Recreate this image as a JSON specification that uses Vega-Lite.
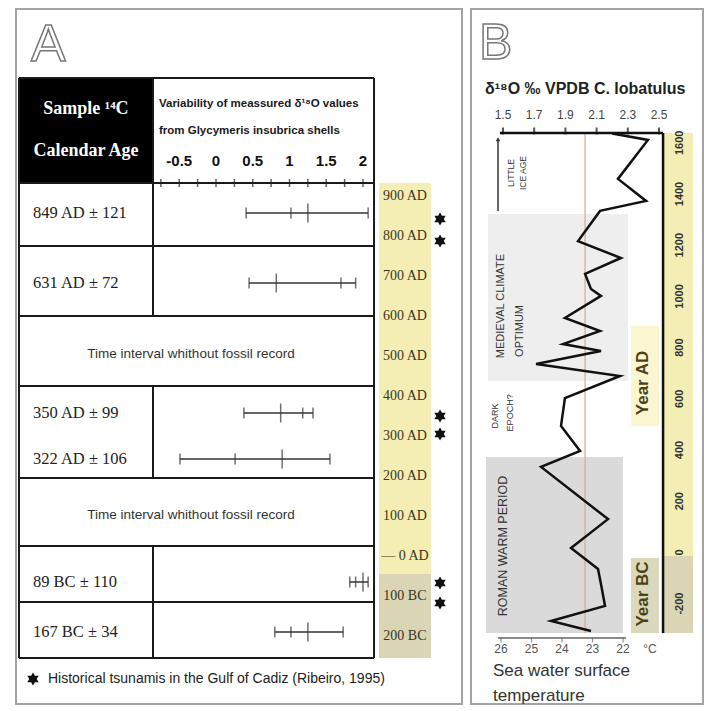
{
  "$schema": "https://vega.github.io/schema/vega-lite/v6.json",
  "padding": {"left": 15, "top": 8, "right": 0, "bottom": 0},
  "background": "white",
  "spacing": 7,
  "config": {"view": {"stroke": "#a3a3a3", "strokeWidth": 2}, "axis": {"grid": false}},
  "datasets": {
    "samples": [
      {"sample": "849 AD ± 121", "age": 849, "plot_year": 857.5, "lo": 0.41, "q": 1.02, "mean": 1.25, "hi": 2.07},
      {"sample": "631 AD ± 72", "age": 631, "plot_year": 682.5, "lo": 0.45, "q": 1.70, "mean": 0.82, "hi": 1.90},
      {"sample": "350 AD ± 99", "age": 350, "plot_year": 357.5, "lo": 0.38, "q": 1.18, "mean": 0.88, "hi": 1.32},
      {"sample": "322 AD ± 106", "age": 322, "plot_year": 242.5, "lo": -0.49, "q": 0.26, "mean": 0.90, "hi": 1.55},
      {"sample": "89 BC ± 110", "age": -89, "plot_year": -65, "lo": 1.82, "q": 1.90, "mean": 2.0, "hi": 2.07},
      {"sample": "167 BC ± 34", "age": -167, "plot_year": -190, "lo": 0.80, "q": 1.02, "mean": 1.25, "hi": 1.73}
    ],
    "tsunamis": [{"year": 842.5}, {"year": 787.5}, {"year": 350}, {"year": 305}, {"year": -67.5}, {"year": -117.5}],
    "yearsA": [
      {"year": 900, "label": "900 AD"}, {"year": 800, "label": "800 AD"}, {"year": 700, "label": "700 AD"},
      {"year": 600, "label": "600 AD"}, {"year": 500, "label": "500 AD"}, {"year": 400, "label": "400 AD"},
      {"year": 300, "label": "300 AD"}, {"year": 200, "label": "200 AD"}, {"year": 100, "label": "100 AD"},
      {"year": 0, "label": "— 0 AD"}, {"year": -100, "label": "100 BC"}, {"year": -200, "label": "200 BC"}
    ],
    "ticksA": [{"v": -0.75}, {"v": -0.5}, {"v": -0.25}, {"v": 0}, {"v": 0.25}, {"v": 0.5}, {"v": 0.75}, {"v": 1}, {"v": 1.25}, {"v": 1.5}, {"v": 1.75}, {"v": 2}],
    "labelsA": [{"v": -0.5, "label": "-0.5"}, {"v": 0, "label": "0"}, {"v": 0.5, "label": "0.5"}, {"v": 1, "label": "1"}, {"v": 1.5, "label": "1.5"}, {"v": 2, "label": "2"}],
    "ticksB": [{"v": 1.5, "label": "1.5"}, {"v": 1.7, "label": "1.7"}, {"v": 1.9, "label": "1.9"}, {"v": 2.1, "label": "2.1"}, {"v": 2.3, "label": "2.3"}, {"v": 2.5, "label": "2.5"}],
    "yearsB": [{"year": -200}, {"year": 0}, {"year": 200}, {"year": 400}, {"year": 600}, {"year": 800}, {"year": 1000}, {"year": 1200}, {"year": 1400}, {"year": 1600}],
    "temps": [{"t": 26, "label": "26"}, {"t": 25, "label": "25"}, {"t": 24, "label": "24"}, {"t": 23, "label": "23"}, {"t": 22, "label": "22"}],
    "d18o": [
      {"year": 1636, "d18O": 2.2},
      {"year": 1611, "d18O": 2.429},
      {"year": 1459, "d18O": 2.237},
      {"year": 1373, "d18O": 2.417},
      {"year": 1334, "d18O": 2.122},
      {"year": 1216, "d18O": 1.981},
      {"year": 1150, "d18O": 2.256},
      {"year": 1088, "d18O": 2.026},
      {"year": 1029, "d18O": 2.064},
      {"year": 1002, "d18O": 2.128},
      {"year": 916, "d18O": 1.897},
      {"year": 865, "d18O": 2.122},
      {"year": 814, "d18O": 1.885},
      {"year": 787, "d18O": 2.128},
      {"year": 736, "d18O": 1.712},
      {"year": 689, "d18O": 2.25},
      {"year": 603, "d18O": 1.897},
      {"year": 494, "d18O": 1.872},
      {"year": 396, "d18O": 1.994},
      {"year": 334, "d18O": 1.744},
      {"year": 130, "d18O": 2.173},
      {"year": 17, "d18O": 1.936},
      {"year": -65, "d18O": 2.109},
      {"year": -123, "d18O": 2.128},
      {"year": -209, "d18O": 2.154},
      {"year": -268, "d18O": 1.808},
      {"year": -307, "d18O": 2.064}
    ]
  },
  "hconcat": [
    {
      "width": 446,
      "height": 695,
      "layer": [
        {
          "data": {"values": [{"era": "AD", "from": 932.5, "to": -45}, {"era": "BC", "from": -45, "to": -255}]},
          "mark": {"type": "rect"},
          "encoding": {
            "x": {"datum": 2.218, "type": "quantitative", "scale": {"domain": [-2.721, 3.347], "nice": false, "zero": false}, "axis": null},
            "x2": {"datum": 2.925},
            "y": {"field": "from", "type": "quantitative", "scale": {"domain": [-370, 1367.5], "nice": false, "zero": false}, "axis": null},
            "y2": {"field": "to"},
            "color": {"field": "era", "type": "nominal", "scale": {"domain": ["AD", "BC"], "range": ["#f5eeb4", "#d9d5b5"]}, "legend": null}
          }
        },
        {
          "data": {"name": "yearsA"},
          "mark": {"type": "text", "align": "center", "baseline": "middle", "font": "Liberation Serif", "fontSize": 14, "color": "#3a3520"},
          "encoding": {
            "x": {"datum": 2.571, "type": "quantitative", "scale": {"domain": [-2.721, 3.347], "nice": false, "zero": false}, "axis": null},
            "y": {"field": "year", "type": "quantitative", "scale": {"domain": [-370, 1367.5], "nice": false, "zero": false}, "axis": null},
            "text": {"field": "label"}
          }
        },
        {
          "data": {"values": [{}]},
          "mark": {"type": "rect", "color": "#000000"},
          "encoding": {
            "x": {"datum": -2.68, "type": "quantitative", "scale": {"domain": [-2.721, 3.347], "nice": false, "zero": false}, "axis": null},
            "x2": {"datum": -0.857},
            "y": {"datum": 1195, "type": "quantitative", "scale": {"domain": [-370, 1367.5], "nice": false, "zero": false}, "axis": null},
            "y2": {"datum": 932.5}
          }
        },
        {
          "data": {"values": [{"year": 1195}, {"year": 932.5}, {"year": 775}, {"year": 600}, {"year": 425}, {"year": 195}, {"year": 25}, {"year": -115}, {"year": -255}]},
          "mark": {"type": "rule", "color": "#1a1a1a", "strokeWidth": 2},
          "encoding": {
            "x": {"datum": -2.68, "type": "quantitative", "scale": {"domain": [-2.721, 3.347], "nice": false, "zero": false}, "axis": null},
            "x2": {"datum": 2.15},
            "y": {"field": "year", "type": "quantitative", "scale": {"domain": [-370, 1367.5], "nice": false, "zero": false}, "axis": null}
          }
        },
        {
          "data": {"values": [{}]},
          "mark": {"type": "rule", "color": "#1a1a1a", "strokeWidth": 2},
          "encoding": {
            "x": {"datum": -2.68, "type": "quantitative", "scale": {"domain": [-2.721, 3.347], "nice": false, "zero": false}, "axis": null},
            "y": {"datum": 1195, "type": "quantitative", "scale": {"domain": [-370, 1367.5], "nice": false, "zero": false}, "axis": null},
            "y2": {"datum": -255}
          }
        },
        {
          "data": {"values": [{}]},
          "mark": {"type": "rule", "color": "#1a1a1a", "strokeWidth": 2},
          "encoding": {
            "x": {"datum": 2.15, "type": "quantitative", "scale": {"domain": [-2.721, 3.347], "nice": false, "zero": false}, "axis": null},
            "y": {"datum": 1195, "type": "quantitative", "scale": {"domain": [-370, 1367.5], "nice": false, "zero": false}, "axis": null},
            "y2": {"datum": -255}
          }
        },
        {
          "data": {"values": [{}]},
          "mark": {"type": "rule", "color": "#1a1a1a", "strokeWidth": 2},
          "encoding": {
            "x": {"datum": -0.857, "type": "quantitative", "scale": {"domain": [-2.721, 3.347], "nice": false, "zero": false}, "axis": null},
            "y": {"datum": 1195, "type": "quantitative", "scale": {"domain": [-370, 1367.5], "nice": false, "zero": false}, "axis": null},
            "y2": {"datum": 600}
          }
        },
        {
          "data": {"values": [{}]},
          "mark": {"type": "rule", "color": "#1a1a1a", "strokeWidth": 2},
          "encoding": {
            "x": {"datum": -0.857, "type": "quantitative", "scale": {"domain": [-2.721, 3.347], "nice": false, "zero": false}, "axis": null},
            "y": {"datum": 425, "type": "quantitative", "scale": {"domain": [-370, 1367.5], "nice": false, "zero": false}, "axis": null},
            "y2": {"datum": 195}
          }
        },
        {
          "data": {"values": [{}]},
          "mark": {"type": "rule", "color": "#1a1a1a", "strokeWidth": 2},
          "encoding": {
            "x": {"datum": -0.857, "type": "quantitative", "scale": {"domain": [-2.721, 3.347], "nice": false, "zero": false}, "axis": null},
            "y": {"datum": 25, "type": "quantitative", "scale": {"domain": [-370, 1367.5], "nice": false, "zero": false}, "axis": null},
            "y2": {"datum": -255}
          }
        },
        {
          "data": {"name": "ticksA"},
          "mark": {"type": "tick", "orient": "vertical", "size": 8, "thickness": 1.5, "color": "#222222"},
          "encoding": {
            "x": {"field": "v", "type": "quantitative", "scale": {"domain": [-2.721, 3.347], "nice": false, "zero": false}, "axis": null},
            "y": {"datum": 932.5, "type": "quantitative", "scale": {"domain": [-370, 1367.5], "nice": false, "zero": false}, "axis": null}
          }
        },
        {
          "data": {"name": "labelsA"},
          "mark": {"type": "text", "align": "center", "baseline": "middle", "font": "Liberation Sans", "fontSize": 15, "fontWeight": "bold", "color": "#111111"},
          "encoding": {
            "x": {"field": "v", "type": "quantitative", "scale": {"domain": [-2.721, 3.347], "nice": false, "zero": false}, "axis": null},
            "y": {"datum": 987.5, "type": "quantitative", "scale": {"domain": [-370, 1367.5], "nice": false, "zero": false}, "axis": null},
            "text": {"field": "label"}
          }
        },
        {
          "data": {"name": "samples"},
          "mark": {"type": "rule", "color": "#333333", "strokeWidth": 1.5},
          "encoding": {
            "x": {"field": "lo", "type": "quantitative", "scale": {"domain": [-2.721, 3.347], "nice": false, "zero": false}, "axis": null},
            "x2": {"field": "hi"},
            "y": {"field": "plot_year", "type": "quantitative", "scale": {"domain": [-370, 1367.5], "nice": false, "zero": false}, "axis": null}
          }
        },
        {
          "data": {"name": "samples"},
          "transform": [{"fold": ["lo", "q", "hi"], "as": ["stat", "val"]}],
          "mark": {"type": "tick", "orient": "vertical", "size": 11, "thickness": 1.5, "color": "#333333"},
          "encoding": {
            "x": {"field": "val", "type": "quantitative", "scale": {"domain": [-2.721, 3.347], "nice": false, "zero": false}, "axis": null},
            "y": {"field": "plot_year", "type": "quantitative", "scale": {"domain": [-370, 1367.5], "nice": false, "zero": false}, "axis": null}
          }
        },
        {
          "data": {"name": "samples"},
          "mark": {"type": "tick", "orient": "vertical", "size": 19, "thickness": 1.5, "color": "#333333"},
          "encoding": {
            "x": {"field": "mean", "type": "quantitative", "scale": {"domain": [-2.721, 3.347], "nice": false, "zero": false}, "axis": null},
            "y": {"field": "plot_year", "type": "quantitative", "scale": {"domain": [-370, 1367.5], "nice": false, "zero": false}, "axis": null}
          }
        },
        {
          "data": {"name": "samples"},
          "mark": {"type": "text", "align": "left", "baseline": "middle", "font": "Liberation Serif", "fontSize": 16.5, "color": "#222222"},
          "encoding": {
            "x": {"datum": -2.49, "type": "quantitative", "scale": {"domain": [-2.721, 3.347], "nice": false, "zero": false}, "axis": null},
            "y": {"field": "plot_year", "type": "quantitative", "scale": {"domain": [-370, 1367.5], "nice": false, "zero": false}, "axis": null},
            "text": {"field": "sample"}
          }
        },
        {
          "data": {"values": [{"note": "Time interval whithout fossil record", "mid": 505}, {"note": "Time interval whithout fossil record", "mid": 102.5}]},
          "mark": {"type": "text", "align": "center", "baseline": "middle", "font": "Liberation Sans", "fontSize": 13.5, "color": "#333333"},
          "encoding": {
            "x": {"datum": -0.34, "type": "quantitative", "scale": {"domain": [-2.721, 3.347], "nice": false, "zero": false}, "axis": null},
            "y": {"field": "mid", "type": "quantitative", "scale": {"domain": [-370, 1367.5], "nice": false, "zero": false}, "axis": null},
            "text": {"field": "note"}
          }
        },
        {
          "data": {"values": [{}]},
          "mark": {"type": "text", "text": "Sample ¹⁴C", "align": "center", "baseline": "middle", "font": "Liberation Serif", "fontSize": 18, "fontWeight": "bold", "color": "#ffffff"},
          "encoding": {
            "x": {"datum": -1.769, "type": "quantitative", "scale": {"domain": [-2.721, 3.347], "nice": false, "zero": false}, "axis": null},
            "y": {"datum": 1117.5, "type": "quantitative", "scale": {"domain": [-370, 1367.5], "nice": false, "zero": false}, "axis": null}
          }
        },
        {
          "data": {"values": [{}]},
          "mark": {"type": "text", "text": "Calendar Age", "align": "center", "baseline": "middle", "font": "Liberation Serif", "fontSize": 18, "fontWeight": "bold", "color": "#ffffff"},
          "encoding": {
            "x": {"datum": -1.769, "type": "quantitative", "scale": {"domain": [-2.721, 3.347], "nice": false, "zero": false}, "axis": null},
            "y": {"datum": 1012.5, "type": "quantitative", "scale": {"domain": [-370, 1367.5], "nice": false, "zero": false}, "axis": null}
          }
        },
        {
          "data": {"values": [{}]},
          "mark": {"type": "text", "text": "Variability of meassured δ¹⁸O values", "align": "left", "baseline": "middle", "font": "Liberation Sans", "fontSize": 11.5, "fontWeight": "bold", "color": "#1a1a1a"},
          "encoding": {
            "x": {"datum": -0.776, "type": "quantitative", "scale": {"domain": [-2.721, 3.347], "nice": false, "zero": false}, "axis": null},
            "y": {"datum": 1130, "type": "quantitative", "scale": {"domain": [-370, 1367.5], "nice": false, "zero": false}, "axis": null}
          }
        },
        {
          "data": {"values": [{}]},
          "mark": {"type": "text", "text": "from Glycymeris insubrica shells", "align": "left", "baseline": "middle", "font": "Liberation Sans", "fontSize": 11.5, "fontWeight": "bold", "color": "#1a1a1a"},
          "encoding": {
            "x": {"datum": -0.776, "type": "quantitative", "scale": {"domain": [-2.721, 3.347], "nice": false, "zero": false}, "axis": null},
            "y": {"datum": 1062.5, "type": "quantitative", "scale": {"domain": [-370, 1367.5], "nice": false, "zero": false}, "axis": null}
          }
        },
        {
          "data": {"values": [{}]},
          "mark": {"type": "text", "text": "A", "align": "left", "baseline": "alphabetic", "font": "Liberation Sans", "fontSize": 52, "fill": "#ffffff", "stroke": "#777777", "strokeWidth": 1.5},
          "encoding": {
            "x": {"datum": -2.517, "type": "quantitative", "scale": {"domain": [-2.721, 3.347], "nice": false, "zero": false}, "axis": null},
            "y": {"datum": 1237.5, "type": "quantitative", "scale": {"domain": [-370, 1367.5], "nice": false, "zero": false}, "axis": null}
          }
        },
        {
          "data": {"name": "tsunamis"},
          "mark": {"type": "point", "shape": "M0,-1L0.2887,-0.5L0.866,-0.5L0.5774,0L0.866,0.5L0.2887,0.5L0,1L-0.2887,0.5L-0.866,0.5L-0.5774,0L-0.866,-0.5L-0.2887,-0.5Z", "size": 170, "filled": true, "color": "#111111", "opacity": 1},
          "encoding": {
            "x": {"datum": 3.048, "type": "quantitative", "scale": {"domain": [-2.721, 3.347], "nice": false, "zero": false}, "axis": null},
            "y": {"field": "year", "type": "quantitative", "scale": {"domain": [-370, 1367.5], "nice": false, "zero": false}, "axis": null}
          }
        },
        {
          "data": {"values": [{}]},
          "mark": {"type": "point", "shape": "M0,-1L0.2887,-0.5L0.866,-0.5L0.5774,0L0.866,0.5L0.2887,0.5L0,1L-0.2887,0.5L-0.866,0.5L-0.5774,0L-0.866,-0.5L-0.2887,-0.5Z", "size": 170, "filled": true, "color": "#111111", "opacity": 1},
          "encoding": {
            "x": {"datum": -2.49, "type": "quantitative", "scale": {"domain": [-2.721, 3.347], "nice": false, "zero": false}, "axis": null},
            "y": {"datum": -307.5, "type": "quantitative", "scale": {"domain": [-370, 1367.5], "nice": false, "zero": false}, "axis": null}
          }
        },
        {
          "data": {"values": [{}]},
          "mark": {"type": "text", "text": "Historical tsunamis in the Gulf of Cadiz (Ribeiro, 1995)", "align": "left", "baseline": "middle", "font": "Liberation Sans", "fontSize": 14, "color": "#222222"},
          "encoding": {
            "x": {"datum": -2.286, "type": "quantitative", "scale": {"domain": [-2.721, 3.347], "nice": false, "zero": false}, "axis": null},
            "y": {"datum": -307.5, "type": "quantitative", "scale": {"domain": [-370, 1367.5], "nice": false, "zero": false}, "axis": null}
          }
        }
      ]
    },
    {
      "width": 232,
      "height": 695,
      "resolve": {"scale": {"x": "independent"}},
      "layer": [
        {
          "layer": [
            {
              "data": {"values": [{"period": "Medieval Climate Optimum", "start": 670, "end": 1322}]},
              "mark": {"type": "rect", "color": "#eeeeee"},
              "encoding": {
                "x": {"datum": 1.404, "type": "quantitative", "scale": {"domain": [1.2949, 2.782], "nice": false, "zero": false}, "axis": null},
                "x2": {"datum": 2.301},
                "y": {"field": "start", "type": "quantitative", "scale": {"domain": [-592.19, 2122.66], "nice": false, "zero": false}, "axis": null},
                "y2": {"field": "end"}
              }
            },
            {
              "data": {"values": [{"period": "Roman Warm Period", "start": -315, "end": 373}]},
              "mark": {"type": "rect", "color": "#dadada"},
              "encoding": {
                "x": {"datum": 1.391, "type": "quantitative", "scale": {"domain": [1.2949, 2.782], "nice": false, "zero": false}, "axis": null},
                "x2": {"datum": 2.269},
                "y": {"field": "start", "type": "quantitative", "scale": {"domain": [-592.19, 2122.66], "nice": false, "zero": false}, "axis": null},
                "y2": {"field": "end"}
              }
            },
            {
              "data": {"values": [{"era": "AD", "from": 1638, "to": -14}, {"era": "BC", "from": -14, "to": -315}]},
              "mark": {"type": "rect"},
              "encoding": {
                "x": {"datum": 2.532, "type": "quantitative", "scale": {"domain": [1.2949, 2.782], "nice": false, "zero": false}, "axis": null},
                "x2": {"datum": 2.718},
                "y": {"field": "from", "type": "quantitative", "scale": {"domain": [-592.19, 2122.66], "nice": false, "zero": false}, "axis": null},
                "y2": {"field": "to"},
                "color": {"field": "era", "type": "nominal", "scale": {"domain": ["AD", "BC"], "range": ["#f5eeb4", "#d9d5b5"]}, "legend": null}
              }
            },
            {
              "data": {"values": [{}]},
              "mark": {"type": "rect", "color": "#fbf6d2"},
              "encoding": {
                "x": {"datum": 2.3205, "type": "quantitative", "scale": {"domain": [1.2949, 2.782], "nice": false, "zero": false}, "axis": null},
                "x2": {"datum": 2.5},
                "y": {"datum": 884, "type": "quantitative", "scale": {"domain": [-592.19, 2122.66], "nice": false, "zero": false}, "axis": null},
                "y2": {"datum": 494}
              }
            },
            {
              "data": {"values": [{}]},
              "mark": {"type": "rect", "color": "#dcd8bd"},
              "encoding": {
                "x": {"datum": 2.3205, "type": "quantitative", "scale": {"domain": [1.2949, 2.782], "nice": false, "zero": false}, "axis": null},
                "x2": {"datum": 2.5},
                "y": {"datum": -22, "type": "quantitative", "scale": {"domain": [-592.19, 2122.66], "nice": false, "zero": false}, "axis": null},
                "y2": {"datum": -315}
              }
            },
            {
              "data": {"values": [{}]},
              "mark": {"type": "rule", "color": "#dba98f", "strokeWidth": 1.2},
              "encoding": {
                "x": {"datum": 2.026, "type": "quantitative", "scale": {"domain": [1.2949, 2.782], "nice": false, "zero": false}, "axis": null},
                "y": {"datum": 1638, "type": "quantitative", "scale": {"domain": [-592.19, 2122.66], "nice": false, "zero": false}, "axis": null},
                "y2": {"datum": -315}
              }
            },
            {
              "data": {"name": "d18o"},
              "mark": {"type": "line", "color": "#111111", "strokeWidth": 2.5, "strokeJoin": "miter"},
              "encoding": {
                "x": {"field": "d18O", "type": "quantitative", "scale": {"domain": [1.2949, 2.782], "nice": false, "zero": false}, "axis": null},
                "y": {"field": "year", "type": "quantitative", "scale": {"domain": [-592.19, 2122.66], "nice": false, "zero": false}, "axis": null},
                "order": {"field": "year", "sort": "descending"}
              }
            },
            {
              "data": {"values": [{}]},
              "mark": {"type": "rule", "color": "#111111", "strokeWidth": 2.5},
              "encoding": {
                "x": {"datum": 1.48, "type": "quantitative", "scale": {"domain": [1.2949, 2.782], "nice": false, "zero": false}, "axis": null},
                "x2": {"datum": 2.526},
                "y": {"datum": 1638, "type": "quantitative", "scale": {"domain": [-592.19, 2122.66], "nice": false, "zero": false}, "axis": null}
              }
            },
            {
              "data": {"values": [{}]},
              "mark": {"type": "rule", "color": "#111111", "strokeWidth": 2.5},
              "encoding": {
                "x": {"datum": 2.526, "type": "quantitative", "scale": {"domain": [1.2949, 2.782], "nice": false, "zero": false}, "axis": null},
                "y": {"datum": 1638, "type": "quantitative", "scale": {"domain": [-592.19, 2122.66], "nice": false, "zero": false}, "axis": null},
                "y2": {"datum": -315}
              }
            },
            {
              "data": {"name": "ticksB"},
              "mark": {"type": "tick", "orient": "vertical", "size": 7, "thickness": 2, "color": "#111111"},
              "encoding": {
                "x": {"field": "v", "type": "quantitative", "scale": {"domain": [1.2949, 2.782], "nice": false, "zero": false}, "axis": null},
                "y": {"datum": 1646, "type": "quantitative", "scale": {"domain": [-592.19, 2122.66], "nice": false, "zero": false}, "axis": null}
              }
            },
            {
              "data": {"name": "ticksB"},
              "mark": {"type": "text", "align": "center", "baseline": "middle", "font": "Liberation Sans", "fontSize": 12, "color": "#444444"},
              "encoding": {
                "x": {"field": "v", "type": "quantitative", "scale": {"domain": [1.2949, 2.782], "nice": false, "zero": false}, "axis": null},
                "y": {"datum": 1708.6, "type": "quantitative", "scale": {"domain": [-592.19, 2122.66], "nice": false, "zero": false}, "axis": null},
                "text": {"field": "label"}
              }
            },
            {
              "data": {"name": "yearsB"},
              "mark": {"type": "text", "angle": -90, "align": "center", "baseline": "middle", "font": "Liberation Sans", "fontSize": 11, "fontWeight": "bold", "color": "#333333"},
              "encoding": {
                "x": {"datum": 2.6346, "type": "quantitative", "scale": {"domain": [1.2949, 2.782], "nice": false, "zero": false}, "axis": null},
                "y": {"field": "year", "type": "quantitative", "scale": {"domain": [-592.19, 2122.66], "nice": false, "zero": false}, "axis": null},
                "text": {"field": "year", "type": "nominal"}
              }
            },
            {
              "data": {"values": [{}]},
              "mark": {"type": "rule", "color": "#333333", "strokeWidth": 1.5},
              "encoding": {
                "x": {"datum": 1.468, "type": "quantitative", "scale": {"domain": [1.2949, 2.782], "nice": false, "zero": false}, "axis": null},
                "y": {"datum": 1612, "type": "quantitative", "scale": {"domain": [-592.19, 2122.66], "nice": false, "zero": false}, "axis": null},
                "y2": {"datum": 1334}
              }
            },
            {
              "data": {"values": [{}]},
              "mark": {"type": "point", "shape": "triangle-up", "size": 22, "filled": true, "color": "#333333", "opacity": 1},
              "encoding": {
                "x": {"datum": 1.468, "type": "quantitative", "scale": {"domain": [1.2949, 2.782], "nice": false, "zero": false}, "axis": null},
                "y": {"datum": 1614, "type": "quantitative", "scale": {"domain": [-592.19, 2122.66], "nice": false, "zero": false}, "axis": null}
              }
            },
            {
              "data": {"values": [
                {"label": "LITTLE", "px": 1.551, "py": 1482, "size": 8.5},
                {"label": "ICE AGE", "px": 1.628, "py": 1482, "size": 8.5},
                {"label": "MEDIEVAL CLIMATE", "px": 1.487, "py": 962.5, "size": 11},
                {"label": "OPTIMUM", "px": 1.609, "py": 865, "size": 11},
                {"label": "DARK", "px": 1.449, "py": 533, "size": 9},
                {"label": "EPOCH?", "px": 1.545, "py": 545, "size": 9},
                {"label": "ROMAN WARM PERIOD", "px": 1.5, "py": 25, "size": 12.5}
              ]},
              "mark": {"type": "text", "angle": -90, "align": "center", "baseline": "middle", "font": "Liberation Sans", "color": "#333333"},
              "encoding": {
                "x": {"field": "px", "type": "quantitative", "scale": {"domain": [1.2949, 2.782], "nice": false, "zero": false}, "axis": null},
                "y": {"field": "py", "type": "quantitative", "scale": {"domain": [-592.19, 2122.66], "nice": false, "zero": false}, "axis": null},
                "text": {"field": "label"},
                "size": {"field": "size", "type": "quantitative", "scale": null}
              }
            },
            {
              "data": {"values": [{"label": "Year AD", "py": 662}, {"label": "Year BC", "py": -162.5}]},
              "mark": {"type": "text", "angle": -90, "align": "center", "baseline": "middle", "font": "Liberation Sans", "fontSize": 17, "fontWeight": "bold", "color": "#4b4316"},
              "encoding": {
                "x": {"datum": 2.397, "type": "quantitative", "scale": {"domain": [1.2949, 2.782], "nice": false, "zero": false}, "axis": null},
                "y": {"field": "py", "type": "quantitative", "scale": {"domain": [-592.19, 2122.66], "nice": false, "zero": false}, "axis": null},
                "text": {"field": "label"}
              }
            },
            {
              "data": {"values": [{}]},
              "mark": {"type": "text", "text": "B", "align": "left", "baseline": "alphabetic", "font": "Liberation Sans", "fontSize": 50, "fill": "#ffffff", "stroke": "#777777", "strokeWidth": 1.5},
              "encoding": {
                "x": {"datum": 1.346, "type": "quantitative", "scale": {"domain": [1.2949, 2.782], "nice": false, "zero": false}, "axis": null},
                "y": {"datum": 1927, "type": "quantitative", "scale": {"domain": [-592.19, 2122.66], "nice": false, "zero": false}, "axis": null}
              }
            },
            {
              "data": {"values": [{}]},
              "mark": {"type": "text", "text": "δ¹⁸O ‰ VPDB C. lobatulus", "align": "left", "baseline": "middle", "font": "Liberation Sans", "fontSize": 16, "fontWeight": "bold", "color": "#222222"},
              "encoding": {
                "x": {"datum": 1.385, "type": "quantitative", "scale": {"domain": [1.2949, 2.782], "nice": false, "zero": false}, "axis": null},
                "y": {"datum": 1810, "type": "quantitative", "scale": {"domain": [-592.19, 2122.66], "nice": false, "zero": false}, "axis": null}
              }
            },
            {
              "data": {"values": [{"label": "Sea water surface", "py": -463}, {"label": "temperature", "py": -561}]},
              "mark": {"type": "text", "align": "left", "baseline": "middle", "font": "Liberation Sans", "fontSize": 17, "color": "#333333"},
              "encoding": {
                "x": {"datum": 1.436, "type": "quantitative", "scale": {"domain": [1.2949, 2.782], "nice": false, "zero": false}, "axis": null},
                "y": {"field": "py", "type": "quantitative", "scale": {"domain": [-592.19, 2122.66], "nice": false, "zero": false}, "axis": null},
                "text": {"field": "label"}
              }
            }
          ]
        },
        {
          "layer": [
            {
              "data": {"values": [{}]},
              "mark": {"type": "rule", "color": "#666666", "strokeWidth": 1.5},
              "encoding": {
                "x": {"datum": 26.1, "type": "quantitative", "scale": {"domain": [19.377, 26.984], "reverse": true, "nice": false, "zero": false}, "axis": null},
                "x2": {"datum": 21.9},
                "y": {"datum": -334.4, "type": "quantitative", "scale": {"domain": [-592.19, 2122.66], "nice": false, "zero": false}, "axis": null}
              }
            },
            {
              "data": {"name": "temps"},
              "mark": {"type": "tick", "orient": "vertical", "size": 5, "thickness": 1.2, "color": "#666666"},
              "encoding": {
                "x": {"field": "t", "type": "quantitative", "scale": {"domain": [19.377, 26.984], "reverse": true, "nice": false, "zero": false}, "axis": null},
                "y": {"datum": -342, "type": "quantitative", "scale": {"domain": [-592.19, 2122.66], "nice": false, "zero": false}, "axis": null}
              }
            },
            {
              "data": {"name": "temps"},
              "mark": {"type": "text", "align": "center", "baseline": "middle", "font": "Liberation Sans", "fontSize": 12, "color": "#555555"},
              "encoding": {
                "x": {"field": "t", "type": "quantitative", "scale": {"domain": [19.377, 26.984], "reverse": true, "nice": false, "zero": false}, "axis": null},
                "y": {"datum": -377.3, "type": "quantitative", "scale": {"domain": [-592.19, 2122.66], "nice": false, "zero": false}, "axis": null},
                "text": {"field": "label"}
              }
            },
            {
              "data": {"values": [{}]},
              "mark": {"type": "text", "text": "°C", "align": "center", "baseline": "middle", "font": "Liberation Sans", "fontSize": 12, "color": "#555555"},
              "encoding": {
                "x": {"datum": 21.115, "type": "quantitative", "scale": {"domain": [19.377, 26.984], "reverse": true, "nice": false, "zero": false}, "axis": null},
                "y": {"datum": -377.3, "type": "quantitative", "scale": {"domain": [-592.19, 2122.66], "nice": false, "zero": false}, "axis": null}
              }
            }
          ]
        }
      ]
    }
  ]
}
